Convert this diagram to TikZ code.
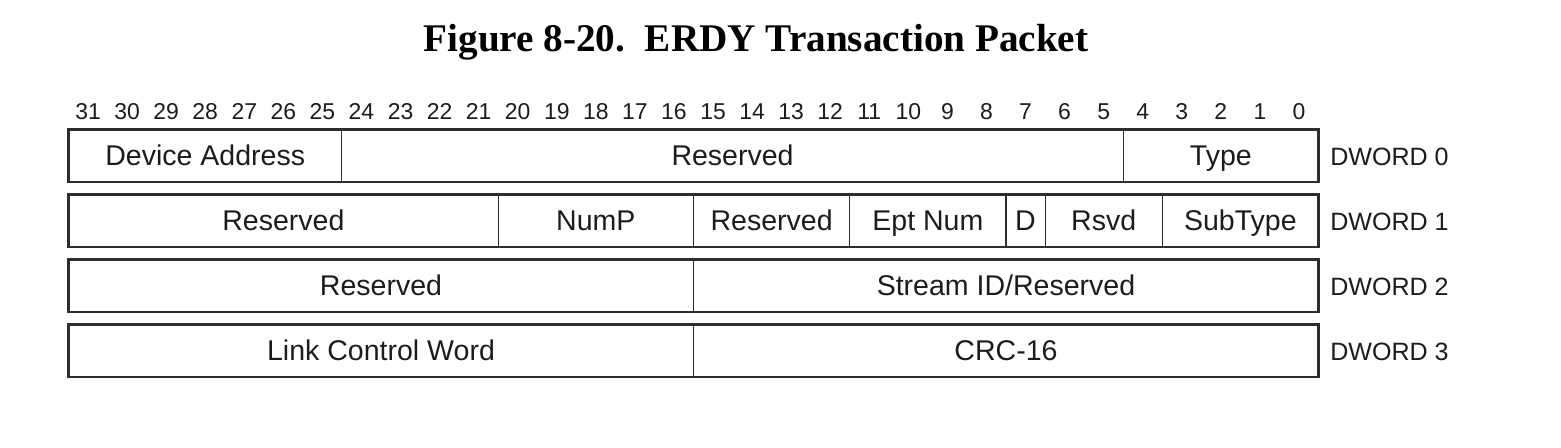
\documentclass[tikz,border=0pt]{standalone}
\usepackage{fontspec}
\setmainfont{Liberation Sans}
\newfontfamily\titlefont{Liberation Serif}
\definecolor{ink}{RGB}{28,28,28}
\definecolor{rulec}{RGB}{45,45,45}
\tikzset{
  fld/.style={draw=rulec, line width=0.8pt, inner sep=0pt, outer sep=0pt,
    minimum height=39.4pt, text height=15.2pt, text depth=0pt,
    font=\fontsize{21.4}{25}\selectfont, text=ink},
  bitnum/.style={anchor=base, inner sep=0pt, font=\fontsize{17.2}{20}\selectfont, text=ink},
  dword/.style={anchor=base west, inner sep=0pt, font=\fontsize{18.8}{22}\selectfont, text=ink},
  frame/.style={draw=rulec, line width=1.6pt},
  titlestyle/.style={anchor=base, inner sep=0pt, font=\titlefont\bfseries\fontsize{29.4}{34}\selectfont, text=black}
}
\newcommand\fieldbox[5]{%
  \node[fld, minimum width={#4*29.296875pt}] (#1) at ({68.5+(#3+#4/2)*39.0625}, #2) {#5};}
\begin{document}
\begin{tikzpicture}[x=0.75pt,y=-0.75pt]
\useasboundingbox (0,0) rectangle (1561,448);
\node[titlestyle] (title) at (756,52) {Figure 8-20.\ \ ERDY Transaction Packet};
\foreach \b in {0,...,31}
  \node[bitnum] (b\b) at ({68.5+(31-\b+0.5)*39.0625}, 119.5) {\b};
% DWORD 0
\fieldbox{da}{155.75}{0}{7}{Device Address}
\fieldbox{rs0}{155.75}{7}{20}{Reserved}
\fieldbox{ty}{155.75}{27}{5}{Type}
\draw[frame] (da.north west) rectangle (ty.south east);
% DWORD 1
\fieldbox{rs1}{220.75}{0}{11}{Reserved}
\fieldbox{nump}{220.75}{11}{5}{NumP}
\fieldbox{rs1b}{220.75}{16}{4}{Reserved}
\fieldbox{ept}{220.75}{20}{4}{Ept Num}
\fieldbox{dd}{220.75}{24}{1}{D}
\fieldbox{rsvd}{220.75}{25}{3}{Rsvd}
\fieldbox{st}{220.75}{28}{4}{SubType}
\draw[frame] (rs1.north west) rectangle (st.south east);
% DWORD 2
\fieldbox{rs2}{285.75}{0}{16}{Reserved}
\fieldbox{sid}{285.75}{16}{16}{Stream ID/Reserved}
\draw[frame] (rs2.north west) rectangle (sid.south east);
% DWORD 3
\fieldbox{lcw}{350.75}{0}{16}{Link Control Word}
\fieldbox{crc}{350.75}{16}{16}{CRC-16}
\draw[frame] (lcw.north west) rectangle (crc.south east);
% DWORD labels
\node[dword] (dw0) at (1330,165.25) {DWORD 0};
\node[dword] (dw1) at (1330,230.25) {DWORD 1};
\node[dword] (dw2) at (1330,295.25) {DWORD 2};
\node[dword] (dw3) at (1330,360.25) {DWORD 3};
\end{tikzpicture}
\end{document}
